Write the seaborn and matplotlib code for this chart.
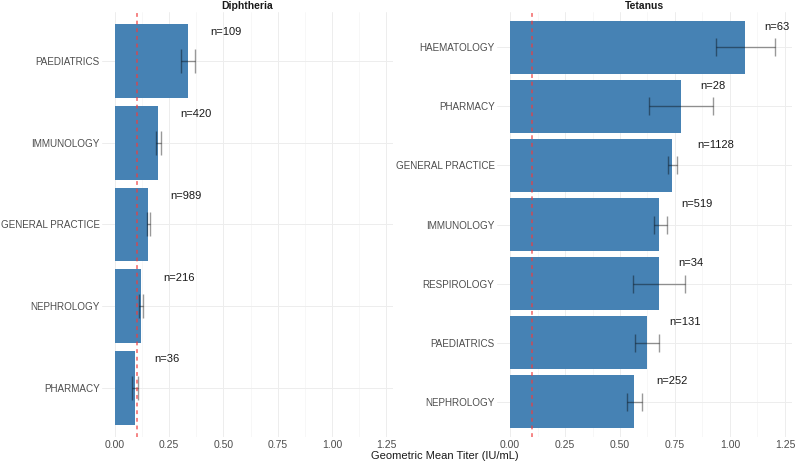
import pandas as pd
import matplotlib.pyplot as plt
import seaborn as sns

# Geometric mean titers by department
dip_dept = ["PAEDIATRICS", "IMMUNOLOGY", "GENERAL PRACTICE", "NEPHROLOGY", "PHARMACY"]
dip_gmt = [0.335, 0.200, 0.151, 0.120, 0.092]
dip_lo = [0.304, 0.190, 0.146, 0.112, 0.077]
dip_hi = [0.370, 0.212, 0.160, 0.130, 0.107]
dip_n = [109, 420, 989, 216, 36]

tet_dept = ["HAEMATOLOGY", "PHARMACY", "GENERAL PRACTICE", "IMMUNOLOGY",
            "RESPIROLOGY", "PAEDIATRICS", "NEPHROLOGY"]
tet_gmt = [1.070, 0.777, 0.738, 0.679, 0.677, 0.621, 0.564]
tet_lo = [0.936, 0.633, 0.717, 0.653, 0.561, 0.570, 0.530]
tet_hi = [1.206, 0.924, 0.759, 0.712, 0.797, 0.679, 0.600]
tet_n = [63, 28, 1128, 519, 34, 131, 252]

threshold = 0.1
x_ticks = [0.0, 0.25, 0.5, 0.75, 1.0, 1.25]

sns.set_style("whitegrid")
plt.rcParams['font.family'] = ['Liberation Sans', 'DejaVu Sans']

fig = plt.figure(figsize=(8, 4.63), dpi=100)
H = 463
bottom = 1 - 437 / H
height = (437 - 12) / H
ax1 = fig.add_axes([101.8 / 800, bottom, (393 - 101.8) / 800, height])
ax2 = fig.add_axes([496.6 / 800, bottom, (792 - 496.6) / 800, height])

panels = [
    (ax1, "Diphtheria", dip_dept, dip_gmt, dip_lo, dip_hi, dip_n, 8.6),
    (ax2, "Tetanus", tet_dept, tet_gmt, tet_lo, tet_hi, tet_n, 6.5),
]

for ax, title, dept, gmt, lo, hi, n, cap in panels:
    df = pd.DataFrame({"dept": dept, "gmt": gmt, "lo": lo, "hi": hi, "n": n})
    sns.barplot(data=df, x="gmt", y="dept", ax=ax, color="steelblue",
                width=0.9, saturation=1, errorbar=None, linewidth=0, zorder=2)
    pos = range(len(df))
    ax.errorbar(df["gmt"], pos,
                xerr=[df["gmt"] - df["lo"], df["hi"] - df["gmt"]],
                fmt="none", ecolor="black", alpha=0.4, elinewidth=1,
                capsize=cap, capthick=1, zorder=3)
    ax.axvline(threshold, color="#f03c3c", linestyle=(0, (2.5, 2.5)),
               linewidth=1.1, alpha=0.8, zorder=4)

    # n labels sit above each bar, a little right of its end
    for i, row in df.iterrows():
        label = f"n={row['n']}"
        t = ax.text(row["gmt"] + 0.03, i - 0.35, label, ha="left", va="center",
                    fontsize=8, color="#1a1a1a", zorder=5)
        w = t.get_window_extent(renderer=fig.canvas.get_renderer()).width
        t.set_transform(ax.transData + plt.matplotlib.transforms.ScaledTranslation(
            0.5 * w / fig.dpi, 0, fig.dpi_scale_trans))

    ax.set_xlim(-0.061, 1.282)
    ax.set_ylim(len(df) - 0.4, -0.6)
    ax.set_xticks(x_ticks)
    ax.set_xticklabels([f"{v:.2f}" for v in x_ticks])
    ax.set_xticks([0.125, 0.375, 0.625, 0.875, 1.125], minor=True)
    ax.grid(True, which="major", color="#ededed", linewidth=0.7, zorder=0)
    ax.grid(True, which="minor", axis="x", color="#f4f4f4", linewidth=0.5, zorder=0)
    ax.set_axisbelow(True)
    ax.tick_params(axis="y", length=0, labelsize=7.1, colors="#4d4d4d", pad=1.5)
    ax.tick_params(axis="x", length=0, labelsize=7.5, colors="#4d4d4d", pad=2)
    ax.set_xlabel("")
    ax.set_ylabel("")
    for s in ax.spines.values():
        s.set_visible(False)
    ax.set_title(title, fontsize=7.5, fontweight="bold", pad=2, color="#1a1a1a")

fig.text(445 / 800, 1 - 456 / H, "Geometric Mean Titer (IU/mL)", ha="center",
         va="center", fontsize=8, color="#1a1a1a")

fig.savefig("out.png", dpi=100, facecolor="white")
